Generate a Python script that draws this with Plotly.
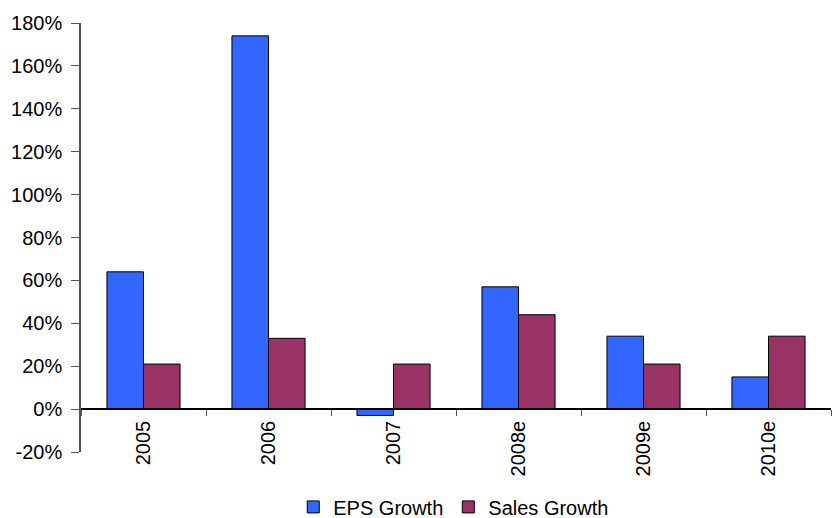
import plotly.graph_objects as go

categories = ["2005", "2006", "2007", "2008e", "2009e", "2010e"]
eps_growth = [64, 174, -3, 57, 34, 15]
sales_growth = [21, 33, 21, 44, 21, 34]
y_ticks = [-20, 0, 20, 40, 60, 80, 100, 120, 140, 160, 180]
y_tick_labels = [f"{v}%" for v in y_ticks]

FONT = "Liberation Sans, Arial, sans-serif"

fig = go.Figure()
fig.add_trace(go.Bar(name="EPS Growth", x=categories, y=eps_growth,
                     marker=dict(color="#3366FF", line=dict(color="#000000", width=1))))
fig.add_trace(go.Bar(name="Sales Growth", x=categories, y=sales_growth,
                     marker=dict(color="#993366", line=dict(color="#000000", width=1))))

ymin, ymax = -20, 180
fig.update_layout(
    width=834, height=518,
    paper_bgcolor="white", plot_bgcolor="white",
    barmode="group", bargap=0.415, bargroupgap=0,
    margin=dict(l=81, r=3, t=23, b=66, autoexpand=False),
    font=dict(family=FONT, size=20, color="#000000"),
    showlegend=True,
    legend=dict(orientation="h", x=0.497, xanchor="center", y=-0.128, yanchor="middle",
                font=dict(size=20), itemwidth=30, tracegroupgap=0,
                bgcolor="rgba(0,0,0,0)"),
    xaxis=dict(
        anchor="free", position=(0 - ymin) / (ymax - ymin),
        showline=True, linecolor="#000000", linewidth=1.5,
        ticks="outside", ticklen=6, tickcolor="#555555", tickson="boundaries",
        tickangle=-90, showgrid=False, zeroline=False,
        tickfont=dict(size=20), ticklabelstandoff=3,
    ),
    yaxis=dict(
        range=[ymin, ymax], tickmode="array", tickvals=y_ticks, ticktext=y_tick_labels,
        showline=True, linecolor="#555555", linewidth=1.5,
        ticks="outside", ticklen=8, tickcolor="#555555",
        showgrid=False, zeroline=False, tickfont=dict(size=20),
        ticklabelstandoff=5,
    ),
)

fig.write_html("out.html", config={"displayModeBar": False},
               post_script="document.body.style.margin='0';")
